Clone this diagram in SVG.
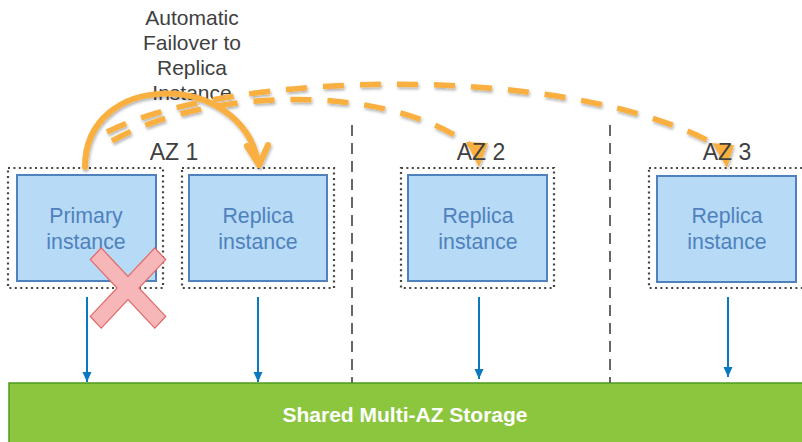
<svg xmlns="http://www.w3.org/2000/svg" width="802" height="442" viewBox="0 0 802 442">
<style>
.title{font-family:"Liberation Sans",Arial,sans-serif;font-size:21px;fill:#404040;text-anchor:middle}
.az{font-family:"Liberation Sans",Arial,sans-serif;font-size:23px;fill:#404040;text-anchor:middle}
.lbl{font-family:"Liberation Sans",Arial,sans-serif;font-size:21.3px;fill:#4f81bd;text-anchor:middle}
.dotted{fill:none;stroke:#444;stroke-width:2.2;stroke-dasharray:2 3.4}
.inst{fill:#b7dbf6;stroke:#4f81bd;stroke-width:2}
.div{stroke:#666;stroke-width:2;stroke-dasharray:11 7;fill:none}
.blue{stroke:#0b79c0;stroke-width:2;fill:none;marker-end:url(#bl)}
.dash{stroke:#f9b03f;stroke-width:5.5;fill:none;stroke-dasharray:21 16}
.solid{stroke:#f9b03f;stroke-width:6;fill:none;stroke-linecap:round;stroke-linejoin:round}
</style>
<defs>
<marker id="bl" viewBox="0 0 10 10" refX="10" refY="5" markerWidth="10" markerHeight="10" markerUnits="userSpaceOnUse" orient="auto">
<path d="M0,0.5 L10,5 L0,9.5 Z" fill="#0b79c0"/>
</marker>
<filter id="sh" x="-10%" y="-20%" width="120%" height="150%">
<feDropShadow dx="1" dy="2" stdDeviation="1.5" flood-color="#000" flood-opacity="0.3"/>
</filter>
</defs>
<rect width="802" height="442" fill="#fff"/>

<g id="storage">
<rect x="9" y="383" width="800" height="70" fill="#8cc63f" stroke="#4e9a1e" stroke-width="1.5"/>
<text x="405" y="422" font-family="'Liberation Sans',Arial,sans-serif" font-size="21" font-weight="bold" fill="#fff" text-anchor="middle">Shared Multi-AZ Storage</text>
</g>

<g id="dividers">
<line class="div" x1="352" y1="125" x2="352" y2="383"/>
<line class="div" x1="610" y1="125" x2="610" y2="383"/>
</g>

<g id="title">
<text class="title" x="192" y="25">Automatic</text>
<text class="title" x="192" y="50">Failover to</text>
<text class="title" x="192" y="75">Replica</text>
<text class="title" x="192" y="100">Instance</text>
</g>

<g id="primary">
<rect class="dotted" x="8" y="168" width="155" height="120"/>
<rect class="inst" x="17" y="175" width="139" height="106"/>
<text class="lbl" x="86" y="223">Primary</text>
<text class="lbl" x="86" y="249">instance</text>
</g>
<g id="replica1">
<rect class="dotted" x="182" y="168" width="152" height="120"/>
<rect class="inst" x="189" y="175" width="138" height="106"/>
<text class="lbl" x="258" y="223">Replica</text>
<text class="lbl" x="258" y="249">instance</text>
</g>
<g id="replica2">
<rect class="dotted" x="401" y="168" width="153" height="120"/>
<rect class="inst" x="408" y="175" width="139" height="106"/>
<text class="lbl" x="478" y="223">Replica</text>
<text class="lbl" x="478" y="249">instance</text>
</g>
<g id="replica3">
<rect class="dotted" x="649" y="168" width="160" height="120"/>
<rect class="inst" x="657" y="176" width="139" height="106"/>
<text class="lbl" x="727" y="223">Replica</text>
<text class="lbl" x="727" y="249">instance</text>
</g>

<g id="connectors">
<line class="blue" x1="87" y1="297" x2="87" y2="382"/>
<line class="blue" x1="258" y1="297" x2="258" y2="382"/>
<line class="blue" x1="479" y1="297" x2="479" y2="379"/>
<line class="blue" x1="728" y1="297" x2="728" y2="377"/>
<g filter="url(#sh)">
<path class="dash" d="M107,132 C230,70 570,62 718,146"/>
<polygon points="712,143 734,145 727,168" fill="#f9b03f"/>
<path class="dash" d="M112,141 C200,90 380,80 470,145"/>
<polygon points="466,142 488,143 479,167" fill="#f9b03f"/>
<path class="solid" d="M85,167 C85,70 240,70 258,162"/>
<polyline class="solid" points="247,146 259,165 268,145"/>
</g>
</g>

<g id="az-labels">
<text class="az" x="174" y="160">AZ 1</text>
<text class="az" x="481" y="160">AZ 2</text>
<text class="az" x="727" y="160">AZ 3</text>
</g>

<g id="failure-x">
<polygon transform="translate(128,288) scale(0.97,1.03)" points="0,-11.3 27.6,-38.9 38.9,-27.6 11.3,0 38.9,27.6 27.6,38.9 0,11.3 -27.6,38.9 -38.9,27.6 -11.3,0 -38.9,-27.6 -27.6,-38.9" fill="#f7b6b7" stroke="#e06666" stroke-width="1.2"/>
</g>
</svg>
